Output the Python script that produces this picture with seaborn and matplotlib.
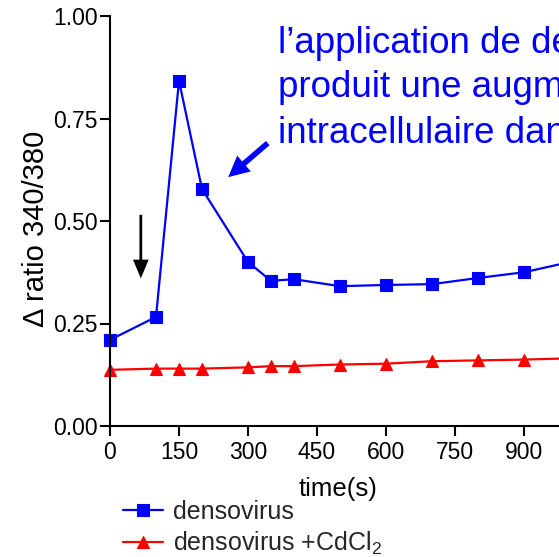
import matplotlib
matplotlib.use("Agg")
import matplotlib.pyplot as plt
import seaborn as sns
import pandas as pd

# Time points (s) and Δ ratio 340/380 for each condition
time_s = [0, 100, 150, 200, 300, 350, 400, 500, 600, 700, 800, 900, 1000]
densovirus = [0.21, 0.266, 0.842, 0.578, 0.40, 0.354, 0.358, 0.341, 0.344, 0.346, 0.361, 0.375, 0.40]
densovirus_cd = [0.137, 0.140, 0.140, 0.140, 0.143, 0.146, 0.146, 0.150, 0.152, 0.158, 0.160, 0.162, 0.165]

series_labels = ["densovirus", "densovirus +CdCl$_{\\mathregular{2}}$"]
x_ticks = [0, 150, 300, 450, 600, 750, 900]
y_ticks = [0.00, 0.25, 0.50, 0.75, 1.00]
note_lines = ["l’application de densovirus",
              "produit une augmentation",
              "intracellulaire dans"]

sns.set_style("ticks")
plt.rcParams["font.family"] = ["Liberation Sans", "DejaVu Sans"]
plt.rcParams["mathtext.fontset"] = "custom"
plt.rcParams["mathtext.rm"] = "Liberation Sans"

df = pd.DataFrame({
    "time": time_s * 2,
    "ratio": densovirus + densovirus_cd,
    "series": [series_labels[0]] * len(time_s) + [series_labels[1]] * len(time_s),
})

fig = plt.figure(figsize=(5.59, 5.57), dpi=100)
ax = fig.add_axes([110 / 559, 131 / 557, 460 / 559, 410 / 557])

for label, color, marker, ms in [(series_labels[0], "#0000FF", "s", 9),
                                 (series_labels[1], "#FF0000", "^", 9)]:
    sub = df[df["series"] == label]
    sns.lineplot(data=sub, x="time", y="ratio", ax=ax, color=color, lw=1.6,
                 marker=marker, markersize=ms, markeredgecolor=color,
                 markeredgewidth=0.8, label=label, clip_on=False)

ax.set_xlim(0, 1000)
ax.set_ylim(0, 1.0)
ax.set_xticks(x_ticks)
ax.set_yticks(y_ticks)
ax.set_yticklabels([f"{v:.2f}" for v in y_ticks])
ax.tick_params(axis="both", labelsize=16.5, length=7, width=1.5, color="black",
               labelcolor="black", direction="out")
ax.tick_params(axis="x", pad=4)
ax.tick_params(axis="y", pad=2)
sns.despine(ax=ax)
for side in ("left", "bottom"):
    ax.spines[side].set_linewidth(1.5)
    ax.spines[side].set_color("black")

ax.set_xlabel("time(s)", fontsize=18.5, color="black")
ax.set_ylabel("Δ ratio 340/380", fontsize=21, color="black")
ax.xaxis.set_label_coords(0.4957, -0.125)
ax.yaxis.set_label_coords(-0.13, 0.48)

# Arrow marking the densovirus application
ax.annotate("", xy=(67, 0.36), xytext=(67, 0.515),
            arrowprops=dict(arrowstyle="simple,head_length=0.9,head_width=0.75,tail_width=0.13",
                            color="black", lw=0, mutation_scale=15,
                            shrinkA=0, shrinkB=0))
# Arrow pointing to the calcium peak
ax.annotate("", xy=(257, 0.607), xytext=(343, 0.69),
            arrowprops=dict(arrowstyle="simple,head_length=0.75,head_width=0.75,tail_width=0.2",
                            color="#0000FF", lw=0, mutation_scale=20,
                            shrinkA=0, shrinkB=0))

for line, yb in zip(note_lines, [53, 97, 143]):
    fig.text(278 / 559, 1 - yb / 557, line, fontsize=26.5, color="#0000FF",
             ha="left", va="baseline")

ax.legend(loc="upper left", bbox_to_anchor=(123 / 559, 1 - 500 / 557),
          bbox_transform=fig.transFigure, frameon=False, fontsize=18,
          handlelength=1.6, handletextpad=0.4, labelspacing=0.22,
          borderpad=0, borderaxespad=0)

fig.savefig("out.png", dpi=100)
